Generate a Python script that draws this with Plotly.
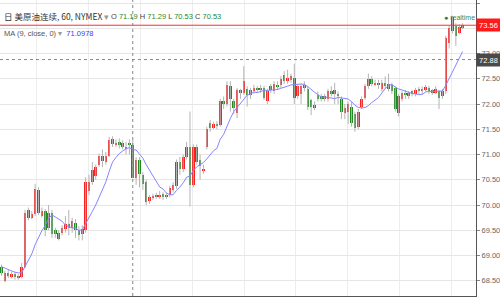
import plotly.graph_objects as go
import pandas as pd

# ---------------- data ----------------
prev_closes = [68.95, 68.90, 68.82, 68.80, 68.72, 68.75, 68.70, 68.72]

opens = [68.78, 68.50, 68.66, 68.58, 68.64, 68.55, 68.58, 68.78, 69.90, 69.75,
         69.82, 70.30, 69.78, 69.88, 69.55, 69.85, 69.50, 69.45, 69.45, 69.52,
         69.62, 69.55, 69.65, 69.50, 69.42, 69.50, 70.28, 70.45, 70.58, 70.80,
         70.98, 70.85, 70.98, 71.30, 71.18, 71.25, 71.22, 71.10, 71.22, 71.19,
         70.53, 70.90, 70.60, 70.45, 70.08, 70.13, 70.20, 70.16, 70.22, 70.15,
         70.20, 70.30, 70.38, 70.85, 70.72, 70.95, 71.15, 70.40, 71.15, 70.90,
         70.68, 71.15, 71.62, 71.52, 71.60, 71.58, 72.05, 72.00, 72.35, 72.05,
         71.82, 72.28, 72.22, 72.30, 72.18, 72.25, 72.32, 72.28, 72.32, 72.05,
         72.35, 72.25, 72.38, 72.38, 72.58, 72.45, 72.48, 72.52, 72.15, 72.20,
         72.38, 72.30, 72.08, 71.93, 72.18, 72.15, 72.10, 72.10, 72.25, 72.20,
         72.20, 72.10, 71.82, 71.85, 71.95, 71.80, 71.55, 71.95, 72.12, 72.35,
         72.50, 72.38, 72.42, 72.30, 72.42, 72.30, 72.38, 72.32, 71.82, 72.10,
         72.22, 72.15, 72.25, 72.20, 72.30, 72.25, 72.28, 72.32, 72.28, 72.22,
         72.25, 72.15, 72.25, 73.20, 73.72, 73.55, 73.40, 73.50]
highs = [68.82, 68.70, 68.72, 68.68, 68.68, 68.63, 68.85, 69.90, 69.95, 69.88,
         70.42, 70.35, 69.95, 69.92, 70.00, 69.90, 69.55, 69.50, 69.60, 69.78,
         69.90, 69.75, 69.72, 69.58, 69.60, 70.55, 70.60, 70.85, 70.80, 71.02,
         71.10, 71.05, 71.35, 71.36, 71.30, 71.32, 71.28, 71.25, 71.30, 71.29,
         70.95, 70.95, 70.65, 70.50, 70.20, 70.22, 70.24, 70.28, 70.25, 70.24,
         70.38, 70.45, 70.90, 70.95, 71.00, 71.25, 71.85, 71.20, 71.20, 71.00,
         70.80, 71.55, 71.68, 71.65, 71.66, 72.10, 72.15, 72.45, 72.45, 72.10,
         72.32, 72.30, 72.75, 72.35, 72.32, 72.38, 72.36, 72.38, 72.36, 72.30,
         72.40, 72.45, 72.45, 72.55, 72.65, 72.68, 72.60, 72.80, 72.40, 72.40,
         72.45, 72.35, 72.10, 72.05, 72.25, 72.20, 72.20, 72.30, 72.35, 72.42,
         72.25, 72.15, 72.00, 72.05, 72.05, 71.85, 71.90, 72.15, 72.40, 72.60,
         72.55, 72.48, 72.48, 72.48, 72.55, 72.60, 72.42, 72.35, 72.20, 72.25,
         72.28, 72.26, 72.28, 72.32, 72.34, 72.35, 72.38, 72.36, 72.30, 72.35,
         72.28, 72.30, 73.35, 73.55, 73.75, 73.60, 73.58, 73.60]
lows = [68.60, 68.47, 68.55, 68.55, 68.52, 68.52, 68.55, 68.75, 69.70, 69.72,
        69.78, 69.80, 69.75, 69.38, 69.50, 69.35, 69.35, 69.30, 69.40, 69.45,
        69.40, 69.45, 69.35, 69.30, 69.30, 69.45, 70.20, 70.40, 70.50, 70.75,
        70.75, 70.80, 70.95, 71.15, 71.15, 71.12, 71.10, 71.00, 71.00, 70.53,
        70.40, 70.35, 70.30, 70.00, 70.02, 70.10, 70.12, 70.12, 70.10, 70.12,
        70.15, 70.25, 70.32, 70.60, 70.65, 70.90, 69.97, 70.35, 70.80, 70.50,
        70.62, 71.10, 71.45, 71.50, 71.50, 71.55, 71.90, 71.95, 71.85, 71.80,
        71.72, 72.10, 72.18, 71.95, 72.10, 72.20, 72.22, 72.22, 72.08, 72.00,
        72.22, 72.20, 72.28, 72.32, 72.40, 72.40, 72.42, 72.00, 72.10, 72.00,
        72.25, 71.88, 71.78, 71.88, 72.05, 72.05, 72.05, 72.05, 72.15, 72.00,
        72.00, 71.70, 71.70, 71.60, 71.55, 71.45, 71.50, 71.90, 72.08, 72.30,
        72.35, 72.35, 72.30, 72.25, 72.30, 72.25, 72.20, 71.85, 71.75, 72.05,
        72.10, 72.10, 72.15, 72.15, 72.20, 72.20, 72.25, 72.20, 72.18, 72.20,
        71.90, 72.10, 72.20, 73.10, 73.40, 73.15, 73.38, 73.48]
closes = [68.66, 68.66, 68.60, 68.64, 68.57, 68.60, 68.78, 69.85, 69.75, 69.82,
          70.32, 69.85, 69.88, 69.50, 69.85, 69.42, 69.42, 69.32, 69.55, 69.62,
          69.55, 69.68, 69.50, 69.40, 69.52, 70.45, 70.45, 70.70, 70.75, 70.98,
          70.88, 70.98, 71.28, 71.20, 71.22, 71.18, 71.15, 71.15, 71.19, 70.53,
          70.90, 70.62, 70.42, 70.05, 70.15, 70.18, 70.16, 70.20, 70.15, 70.20,
          70.33, 70.40, 70.85, 70.72, 70.95, 71.15, 70.40, 71.15, 70.85, 70.78,
          70.72, 71.50, 71.52, 71.60, 71.56, 72.05, 72.00, 72.38, 72.10, 71.92,
          72.28, 72.22, 72.45, 72.18, 72.28, 72.32, 72.28, 72.32, 72.12, 72.25,
          72.28, 72.40, 72.33, 72.50, 72.45, 72.52, 72.55, 72.12, 72.35, 72.35,
          72.32, 71.95, 71.95, 71.98, 72.10, 72.10, 72.15, 72.25, 72.20, 72.28,
          72.15, 71.85, 71.92, 72.00, 71.62, 71.52, 71.85, 72.10, 72.35, 72.50,
          72.40, 72.42, 72.38, 72.42, 72.35, 72.40, 72.25, 71.90, 72.15, 72.22,
          72.18, 72.22, 72.20, 72.28, 72.26, 72.30, 72.33, 72.25, 72.22, 72.30,
          72.12, 72.25, 73.30, 73.50, 73.45, 73.35, 73.52, 73.56]

hover_index = 39
crosshair_price = 72.88
y_ticks = [68.5, 69.0, 69.5, 70.0, 70.5, 71.0, 71.5, 72.0, 72.5, 73.0, 73.5, 74.0]
title_text = "日 美原油连续, 60, NYMEX"
ma_title = "MA (9, close, 0)"

# ---------------- derived ----------------
n = len(closes)
idx = list(range(n))
UP = "#ff1e1e"
DOWN = "#1f8a1f"
colors = [UP if c >= o else DOWN for o, c in zip(opens, closes)]
body_base = [min(o, c) for o, c in zip(opens, closes)]
body_h = [max(abs(c - o), 0.012) for o, c in zip(opens, closes)]

wx, wy = [], []
for i, (h, l) in enumerate(zip(highs, lows)):
    wx += [i, i, None]
    wy += [l, h, None]

ma = pd.Series(prev_closes + closes).rolling(9).mean().tolist()[len(prev_closes):]

last = closes[-1]
# the tick label hidden by the last-price box is left blank
tick_text = ["" if abs(t - last) < 0.1 else f"{t:.2f}" for t in y_ticks]

fig = go.Figure()
fig.add_trace(go.Scatter(x=wx, y=wy, mode="lines", line=dict(color="#b4b4b4", width=1),
                         hoverinfo="skip", showlegend=False))
fig.add_trace(go.Bar(x=idx, y=body_h, base=body_base, marker_color=colors,
                     marker_line_width=0, width=0.75, showlegend=False))
fig.add_trace(go.Scatter(x=idx, y=ma, mode="lines", line=dict(color="#8585ff", width=1),
                         showlegend=False))

# price line, crosshair
fig.add_shape(type="line", xref="paper", x0=0, x1=1, y0=last, y1=last,
              line=dict(color="#ff3030", width=1))
fig.add_shape(type="line", xref="paper", x0=0, x1=1, y0=crosshair_price, y1=crosshair_price,
              line=dict(color="#888888", width=1, dash="3px,3px"))
fig.add_shape(type="line", yref="paper", x0=hover_index, x1=hover_index, y0=0, y1=1,
              line=dict(color="#888888", width=1, dash="3px,3px"))

W_PLOT = 478.0
H_PLOT = 296.0

def px(xp):
    return xp / W_PLOT

def py(yp):
    return 1 - yp / H_PLOT

# price labels on axis
fig.add_annotation(xref="paper", yref="y", x=1, y=last, xanchor="left", yanchor="middle",
                   text=f"{last:.2f}", showarrow=False, bgcolor="#ff1a1a",
                   font=dict(family="Liberation Sans", size=7.5, color="white"),
                   borderpad=1.5, width=20)
fig.add_annotation(xref="paper", yref="y", x=1, y=crosshair_price, xanchor="left", yanchor="middle",
                   text=f"{crosshair_price:.2f}", showarrow=False, bgcolor="#4a4a4a",
                   font=dict(family="Liberation Sans", size=7.5, color="white"),
                   borderpad=1.5, width=20)

# header
o, h, l, c = opens[hover_index], highs[hover_index], lows[hover_index], closes[hover_index]
vc = DOWN if c < o else UP
fig.add_annotation(xref="paper", yref="paper", x=px(2), y=py(16), xanchor="left", yanchor="middle",
                   text=title_text + " <span style='color:#999'>▾</span>", showarrow=False,
                   font=dict(family="Noto Sans CJK SC", size=8.5, color="#333333"))
ohlc = (f"O <span style='color:{vc}'>{o:.2f}</span> H <span style='color:{vc}'>{h:.2f}</span> "
        f"L <span style='color:{vc}'>{l:.2f}</span> C <span style='color:{vc}'>{c:.2f}</span>")
fig.add_annotation(xref="paper", yref="paper", x=px(109), y=py(16), xanchor="left", yanchor="middle",
                   text=ohlc, showarrow=False,
                   font=dict(family="Liberation Sans", size=7.5, color="#444444"))
fig.add_annotation(xref="paper", yref="paper", x=px(2), y=py(33), xanchor="left", yanchor="middle",
                   text=f"{ma_title} <span style='color:#999'>▾</span>  <span style='color:#3a3aff'>{ma[hover_index]:.4f}</span>",
                   showarrow=False, font=dict(family="Liberation Sans", size=7.5, color="#555555"))
fig.add_annotation(xref="paper", yref="paper", x=px(444), y=py(17), xanchor="left", yanchor="middle",
                   text="<span style='color:#2a7a4e'>●</span> realtime", showarrow=False,
                   font=dict(family="Liberation Sans", size=7, color="#3d8a62"))

y_top = 74.0 + 3 / 50.5
y_bot = 74.0 - 293 / 50.5

fig.update_layout(
    width=500, height=300,
    margin=dict(l=0, r=22, t=0, b=4),
    paper_bgcolor="white", plot_bgcolor="white",
    bargap=0, showlegend=False,
    xaxis=dict(range=[-0.44, 140.98], showticklabels=False, ticks="",
               tick0=10.5, dtick=15.4, showgrid=True, gridcolor="#ededed", gridwidth=1,
               showline=True, linecolor="#555555", linewidth=1, zeroline=False, fixedrange=True),
    yaxis=dict(side="right", range=[y_bot, y_top], tickvals=y_ticks, ticktext=tick_text,
               showgrid=True, gridcolor="#e6e6e6", gridwidth=1, zeroline=False,
               showline=True, linecolor="#555555", linewidth=1,
               ticks="outside", ticklen=3, tickcolor="#888888",
               tickfont=dict(family="Liberation Sans", size=7.5, color="#666666")),
)

fig.write_html("out.html")
